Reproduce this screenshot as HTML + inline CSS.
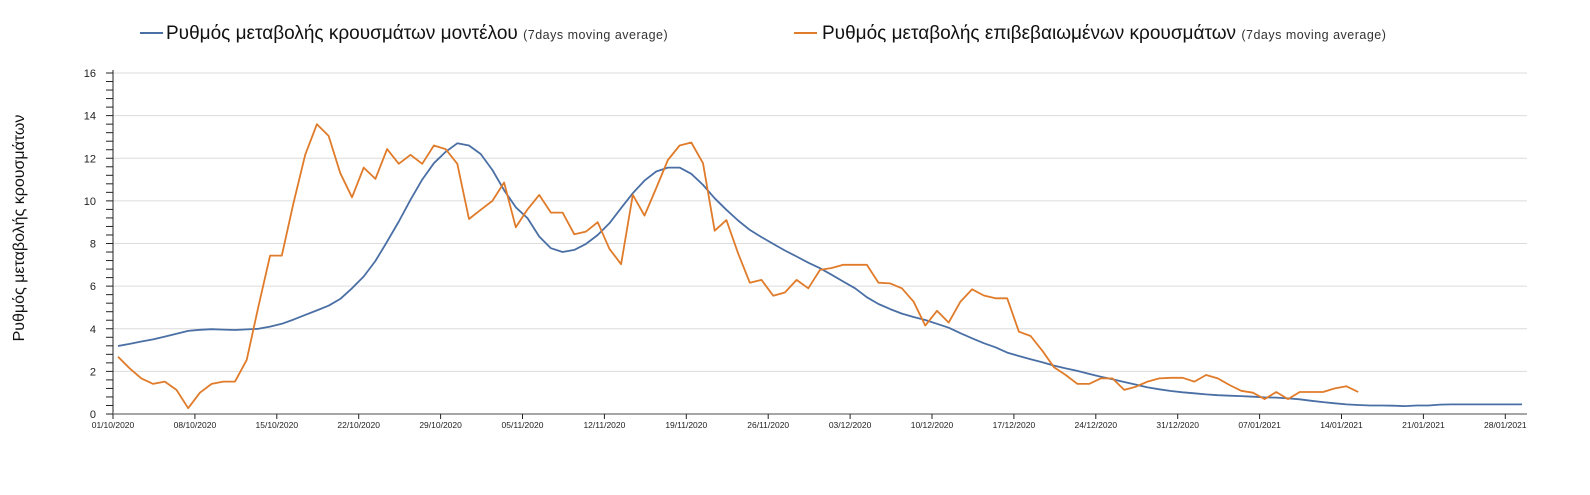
<!DOCTYPE html>
<html><head><meta charset="utf-8"><style>
body{margin:0;background:#fff;width:1590px;height:495px;overflow:hidden;font-family:"Liberation Sans",sans-serif}
svg{display:block}
</style></head><body>
<svg id="chart" width="1590" height="495" xmlns="http://www.w3.org/2000/svg">
<g>
<g>
<line x1="140" y1="33" x2="163" y2="33" stroke="#4a6fa5" stroke-width="2"/>
<text x="166" y="39" font-size="19" fill="#111">Ρυθμός μεταβολής κρουσμάτων μοντέλου <tspan font-size="12.5" letter-spacing="0.5" fill="#333">(7days moving average)</tspan></text>
</g>
<g>
<line x1="794" y1="33" x2="817" y2="33" stroke="#e07b2a" stroke-width="2"/>
<text x="822" y="39" font-size="19" fill="#111">Ρυθμός μεταβολής επιβεβαιωμένων κρουσμάτων <tspan font-size="12.5" letter-spacing="0.5" fill="#333">(7days moving average)</tspan></text>
</g>
</g>
<text transform="translate(24,228) rotate(-90)" text-anchor="middle" font-size="16" fill="#111">Ρυθμός μεταβολής κρουσμάτων</text>
<g id="grid"></g><g id="axes"></g><g id="series"></g>
</svg>
<script>
const yTicks=[0,2,4,6,8,10,12,14,16];
const xLabels=["01/10/2020","08/10/2020","15/10/2020","22/10/2020","29/10/2020","05/11/2020","12/11/2020","19/11/2020","26/11/2020","03/12/2020","10/12/2020","17/12/2020","24/12/2020","31/12/2020","07/01/2021","14/01/2021","21/01/2021","28/01/2021"];
const modelRate=[3.19,3.29,3.4,3.5,3.63,3.77,3.9,3.95,3.98,3.96,3.94,3.97,4.0,4.1,4.23,4.43,4.65,4.86,5.08,5.4,5.9,6.45,7.18,8.09,9.03,10.05,11.0,11.77,12.3,12.7,12.6,12.2,11.45,10.5,9.7,9.19,8.33,7.78,7.6,7.7,7.98,8.4,8.95,9.66,10.36,10.95,11.38,11.56,11.56,11.27,10.75,10.12,9.58,9.08,8.64,8.3,7.98,7.67,7.39,7.1,6.84,6.53,6.21,5.9,5.48,5.16,4.92,4.71,4.55,4.41,4.23,4.05,3.79,3.55,3.32,3.13,2.88,2.72,2.57,2.43,2.27,2.14,2.02,1.88,1.75,1.63,1.5,1.38,1.25,1.16,1.08,1.02,0.97,0.92,0.88,0.86,0.84,0.81,0.78,0.77,0.73,0.69,0.62,0.56,0.5,0.45,0.42,0.4,0.4,0.39,0.37,0.4,0.4,0.44,0.45,0.45,0.45,0.45,0.45,0.45,0.45];
const confirmedRate=[2.69,2.14,1.67,1.41,1.52,1.13,0.27,1.0,1.41,1.52,1.52,2.54,5.04,7.43,7.43,9.9,12.16,13.6,13.05,11.3,10.17,11.56,11.03,12.43,11.74,12.16,11.74,12.6,12.43,11.74,9.15,9.58,10.0,10.86,8.76,9.6,10.28,9.45,9.45,8.43,8.56,9.0,7.75,7.03,10.28,9.31,10.6,11.92,12.6,12.74,11.77,8.6,9.1,7.54,6.16,6.29,5.55,5.7,6.29,5.9,6.76,6.85,7.0,7.0,7.0,6.16,6.13,5.9,5.27,4.15,4.84,4.29,5.27,5.85,5.56,5.43,5.43,3.86,3.66,2.97,2.19,1.83,1.41,1.41,1.67,1.67,1.13,1.28,1.52,1.67,1.7,1.7,1.52,1.83,1.67,1.36,1.09,1.0,0.7,1.03,0.7,1.03,1.03,1.03,1.2,1.3,1.03];
const NS="http://www.w3.org/2000/svg";
const X0=113,X1=1527,Y0=414,Y16=73,DW=11.7;
const y=v=>Y0-(v-0)*(Y0-Y16)/16;
const xd=i=>118+i*DW;
function mk(tag,attrs,parent){const e=document.createElementNS(NS,tag);for(const k in attrs)e.setAttribute(k,attrs[k]);parent.appendChild(e);return e;}
const grid=document.getElementById('grid'),axes=document.getElementById('axes'),series=document.getElementById('series');
yTicks.forEach(v=>{
  if(v>0){const g=mk('line',{x1:X0,x2:X1,y1:y(v),y2:y(v),stroke:'#dcdcdc','stroke-width':1},grid);
  
  }
  const t=mk('text',{x:96,y:y(v)+4,'text-anchor':'end','font-size':11,fill:'#222'},axes);
  t.textContent=v;
  
  
});
for(let v=0;v<=16.001;v+=0.4){const tk=mk('line',{x1:106,x2:X0,y1:y(v),y2:y(v),stroke:'#222','stroke-width':1},axes);
  
  }
const ya=mk('line',{x1:X0,x2:X0,y1:Y16-3,y2:Y0,stroke:'#222','stroke-width':1},axes);


const xa=mk('line',{x1:X0,x2:X1,y1:Y0,y2:Y0,stroke:'#888','stroke-width':1.5},axes);


xLabels.forEach((l,k)=>{
  const tx=X0+k*7*DW;
  const tk=mk('line',{x1:tx,x2:tx,y1:Y0,y2:Y0+5,stroke:'#222','stroke-width':1},axes);
  
  
  const t=mk('text',{x:tx,y:Y0+14,'text-anchor':'middle','font-size':8.5,fill:'#222'},axes);
  t.textContent=l;
  
  
});
function line(arr,color,name){
  const d=arr.map((v,i)=>(i?'L':'M')+xd(i).toFixed(1)+','+y(v).toFixed(1)).join('');
  const p=mk('path',{d:d,fill:'none',stroke:color,'stroke-width':1.8,'stroke-linejoin':'round'},series);
  
  
}
line(modelRate,'#4a6fa5','model-rate-line');
line(confirmedRate,'#e07b2a','confirmed-rate-line');
</script>
</body></html>
